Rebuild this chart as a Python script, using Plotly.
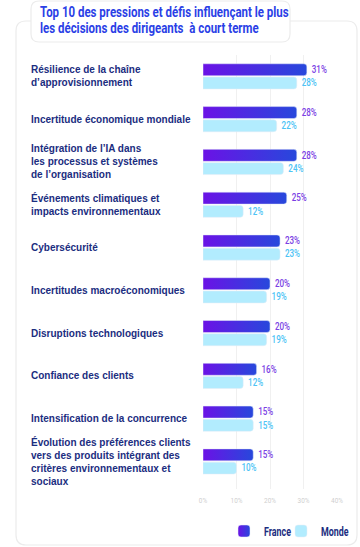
import plotly.graph_objects as go

categories = [
    "Résilience de la chaîne<br>d’approvisionnement",
    "Incertitude économique mondiale",
    "Intégration de l’IA dans<br>les processus et systèmes<br>de l’organisation",
    "Événements climatiques et<br>impacts environnementaux",
    "Cybersécurité",
    "Incertitudes macroéconomiques",
    "Disruptions technologiques",
    "Confiance des clients",
    "Intensification de la concurrence",
    "Évolution des préférences clients<br>vers des produits intégrant des<br>critères environnementaux et<br>sociaux",
]
france = [31, 28, 28, 25, 23, 20, 20, 16, 15, 15]
monde = [28, 22, 24, 12, 23, 19, 19, 12, 15, 10]
tick_vals = [0, 10, 20, 30, 40]
tick_text = ["0%", "10%", "20%", "30%", "40%"]
title_lines = ["Top 10 des pressions et défis influençant le plus",
               "les décisions des dirigeants\u00a0 à court terme"]

W, H = 360, 547
L, R, T, B = 203, 23, 55, 58
PW, PH = W - L - R, H - T - B


def px(x):
    return (x - L) / PW


def py(y):
    return (H - B - y) / PH


def rrect(x0, y0, x1, y1, r):
    X0, X1 = px(x0), px(x1)
    Y0, Y1 = py(y0), py(y1)
    rx, ry = r / PW, r / PH
    return (f"M {X0+rx},{Y0} L {X1-rx},{Y0} Q {X1},{Y0} {X1},{Y0-ry} "
            f"L {X1},{Y1+ry} Q {X1},{Y1} {X1-rx},{Y1} L {X0+rx},{Y1} "
            f"Q {X0},{Y1} {X0},{Y1+ry} L {X0},{Y0-ry} Q {X0},{Y0} {X0+rx},{Y0} Z")


cond = "Roboto, Liberation Sans, sans-serif"
label_font = "Liberation Sans, Arial, sans-serif"

fig = go.Figure()
fig.add_trace(go.Bar(
    y=categories, x=france, orientation="h", name="France",
    marker=dict(color="#4a2ce2", cornerradius=3),
    text=[f"{v}%" for v in france], textposition="outside",
    textfont=dict(family=cond, size=11, color="#7b3fe4", weight=500),
    cliponaxis=False,
))
fig.add_trace(go.Bar(
    y=categories, x=monde, orientation="h", name="Monde",
    marker=dict(color="#b2ecfe", cornerradius=3),
    text=[f"{v}%" for v in monde], textposition="outside",
    textfont=dict(family=cond, size=11, color="#4cc3f5", weight=500),
    cliponaxis=False,
))

annotations = [
    dict(xref="paper", yref="y", x=px(29), y=c, text=c, showarrow=False,
         xanchor="left", yanchor="middle", align="left",
         font=dict(family=label_font, size=10, color="#1b2d80", weight="bold"))
    for c in categories
]
for i, line in enumerate(title_lines):
    annotations.append(dict(
        xref="paper", yref="paper", x=px(38), y=py(12 + 16 * i), text=line,
        showarrow=False, xanchor="left", yanchor="middle", align="left",
        font=dict(family=cond, size=15, color="#2b3fe6", weight="bold"),
    ))

shapes = [
    dict(type="path", xref="paper", yref="paper", path=rrect(16, 21, 357, 545, 10),
         line=dict(color="#ececec", width=1.2), fillcolor="rgba(0,0,0,0)", layer="below"),
    dict(type="path", xref="paper", yref="paper", path=rrect(31, 1, 290, 42, 8),
         line=dict(color="#ececec", width=1.2), fillcolor="white", layer="below"),
]

fig.update_layout(
    width=W, height=H,
    margin=dict(l=L, r=R, t=T, b=B, autoexpand=False),
    paper_bgcolor="white", plot_bgcolor="white",
    barmode="group", bargap=0.38, bargroupgap=0.1,
    showlegend=True,
    legend=dict(x=px(224), y=py(531), xanchor="left", yanchor="middle", orientation="h",
                font=dict(family=cond, size=12, color="#1b2d80", weight="bold"),
                itemwidth=30, entrywidth=12, bgcolor="rgba(0,0,0,0)",
                traceorder="normal"),
    xaxis=dict(range=[0, 40], tickvals=tick_vals, ticktext=tick_text,
               showgrid=True, gridcolor="#f0f0f0", gridwidth=1, zeroline=False,
               tickfont=dict(family=cond, size=8, color="#cfcfcf"), showline=False,
               ticks="", ticklabelstandoff=5),
    yaxis=dict(autorange="reversed", showticklabels=False, showgrid=False, zeroline=False,
               ticks=""),
    annotations=annotations,
    shapes=shapes,
    uniformtext=dict(minsize=8, mode="show"),
)

post = """
document.body.style.margin='0';
document.body.style.overflow='hidden';
var gd = document.getElementById('{plot_id}');
var NS = 'http://www.w3.org/2000/svg';
function squeeze(nodes, f){
  nodes.forEach(function(t){
    if (t.getAttribute('textLength')) return;
    var len = t.getComputedTextLength();
    if (!len) return;
    t.setAttribute('textLength', (len*f).toFixed(2));
    t.setAttribute('lengthAdjust','spacingAndGlyphs');
  });
}
function addGradient(){
  var svg = gd.querySelector('svg.main-svg');
  if (!svg || document.getElementById('frgrad')) return;
  var defs = svg.querySelector('defs');
  if (!defs) { defs = document.createElementNS(NS,'defs'); svg.insertBefore(defs, svg.firstChild); }
  var lg = document.createElementNS(NS,'linearGradient');
  lg.setAttribute('id','frgrad');
  lg.setAttribute('x1','0'); lg.setAttribute('y1','0');
  lg.setAttribute('x2','1'); lg.setAttribute('y2','0');
  [['0','#6b12e6'],['1','#2748dc']].forEach(function(s){
    var st = document.createElementNS(NS,'stop');
    st.setAttribute('offset', s[0]); st.setAttribute('stop-color', s[1]);
    lg.appendChild(st);
  });
  defs.appendChild(lg);
}
function applyAll(){
  addGradient();
  var titles = [];
  gd.querySelectorAll('text.annotation-text').forEach(function(t){
    var s = t.textContent;
    if (s.indexOf('Top 10')===0 || s.indexOf('les d')===0) titles.push(t);
  });
  squeeze(titles, 0.765);
  squeeze(Array.from(gd.querySelectorAll('text.bartext')), 0.8);
  squeeze(Array.from(gd.querySelectorAll('text.legendtext')), 0.74);
  squeeze(Array.from(gd.querySelectorAll('g.xtick text')), 0.8);
  gd.querySelectorAll('g.legend, g.legend *').forEach(function(el){
    if (el.getAttribute('clip-path')) el.removeAttribute('clip-path');
  });
  var tr = gd.querySelectorAll('g.barlayer g.trace.bars');
  if (tr.length) tr[0].querySelectorAll('path').forEach(function(p){ p.style.fill = 'url(#frgrad)'; });
  var lt = gd.querySelectorAll('g.legend g.traces');
  if (lt.length) lt[0].querySelectorAll('g.legendpoints path').forEach(function(p){ p.style.fill = 'url(#frgrad)'; });
}
applyAll();
setTimeout(applyAll, 0);
setTimeout(applyAll, 100);
requestAnimationFrame(applyAll);
"""

fig.write_html("out.html", post_script=post, config={"displayModeBar": False})
